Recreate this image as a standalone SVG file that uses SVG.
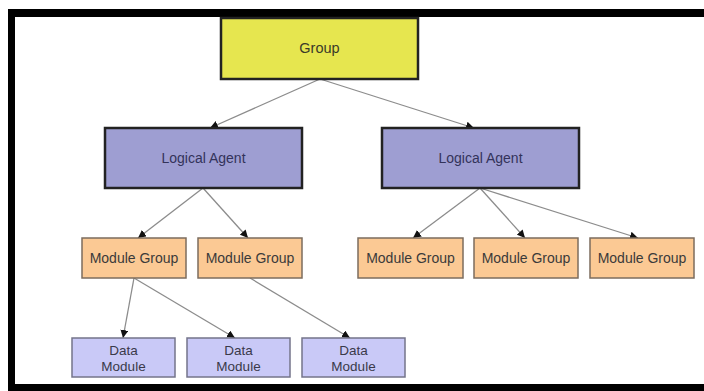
<svg xmlns="http://www.w3.org/2000/svg" width="704" height="391" viewBox="0 0 704 391">
  <defs>
    <marker id="arrow" markerUnits="userSpaceOnUse" markerWidth="10" markerHeight="8" refX="8" refY="4" orient="auto">
      <path d="M0,0 L8,4 L0,8 Z" fill="#111"/>
    </marker>
    <style>
      text { font-family: "Liberation Sans", Arial, sans-serif; font-size: 14px; text-anchor: middle; }
      .group rect { fill: #e6e64f; stroke: #222; stroke-width: 2.5; }
      .agent rect { fill: #9e9ed2; stroke: #222; stroke-width: 2.5; }
      .modgroup rect { fill: #fbc994; stroke: #7c6c5e; stroke-width: 1.5; }
      .datamod rect { fill: #c9c9f7; stroke: #74748a; stroke-width: 1.5; }
      .group text { fill: #3a3a2a; }
      .agent text { fill: #33335a; }
      .modgroup text { fill: #3a3a3a; }
      .datamod text { fill: #3a3a4a; font-size: 13.5px; }
      .edge { stroke: #8c8c8c; stroke-width: 1.3; fill: none; marker-end: url(#arrow); }
    </style>
  </defs>

  <rect width="704" height="391" fill="#fff"/>

  <!-- frame -->
  <g id="frame" fill="#000">
    <rect x="8" y="9" width="696" height="8"/>
    <rect x="8" y="9" width="7" height="382"/>
    <rect x="8" y="384" width="696" height="7"/>
  </g>

  <!-- connectors -->
  <g id="connectors">
    <line class="edge" x1="320" y1="79" x2="210" y2="128"/>
    <line class="edge" x1="320" y1="79" x2="474" y2="128"/>
    <line class="edge" x1="203" y1="188" x2="138" y2="238"/>
    <line class="edge" x1="203" y1="188" x2="248" y2="238"/>
    <line class="edge" x1="480" y1="188" x2="413" y2="238"/>
    <line class="edge" x1="480" y1="188" x2="525" y2="238"/>
    <line class="edge" x1="480" y1="188" x2="638" y2="238"/>
    <line class="edge" x1="134" y1="278" x2="123" y2="338"/>
    <line class="edge" x1="134" y1="278" x2="235" y2="338"/>
    <line class="edge" x1="250" y1="278" x2="350" y2="338"/>
  </g>

  <!-- nodes -->
  <g id="group" class="group">
    <rect x="221" y="18" width="197" height="61"/>
    <text x="319.5" y="53" style="font-size:14.5px">Group</text>
  </g>

  <g id="agent-left" class="agent">
    <rect x="105" y="128" width="197" height="60"/>
    <text x="203.5" y="163">Logical Agent</text>
  </g>
  <g id="agent-right" class="agent">
    <rect x="382" y="128" width="197" height="60"/>
    <text x="480.5" y="163">Logical Agent</text>
  </g>

  <g id="modgroup-1" class="modgroup">
    <rect x="82" y="238" width="104" height="40"/>
    <text x="134" y="263">Module Group</text>
  </g>
  <g id="modgroup-2" class="modgroup">
    <rect x="198" y="238" width="104" height="40"/>
    <text x="250" y="263">Module Group</text>
  </g>
  <g id="modgroup-3" class="modgroup">
    <rect x="358" y="238" width="105" height="40"/>
    <text x="410.5" y="263">Module Group</text>
  </g>
  <g id="modgroup-4" class="modgroup">
    <rect x="474" y="238" width="104" height="40"/>
    <text x="526" y="263">Module Group</text>
  </g>
  <g id="modgroup-5" class="modgroup">
    <rect x="590" y="238" width="104" height="40"/>
    <text x="642" y="263">Module Group</text>
  </g>

  <g id="datamod-1" class="datamod">
    <rect x="72" y="338" width="103" height="39"/>
    <text x="123.5" y="355">Data</text>
    <text x="123.5" y="370.5">Module</text>
  </g>
  <g id="datamod-2" class="datamod">
    <rect x="187" y="338" width="103" height="39"/>
    <text x="238.5" y="355">Data</text>
    <text x="238.5" y="370.5">Module</text>
  </g>
  <g id="datamod-3" class="datamod">
    <rect x="302" y="338" width="103" height="39"/>
    <text x="353.5" y="355">Data</text>
    <text x="353.5" y="370.5">Module</text>
  </g>
</svg>
